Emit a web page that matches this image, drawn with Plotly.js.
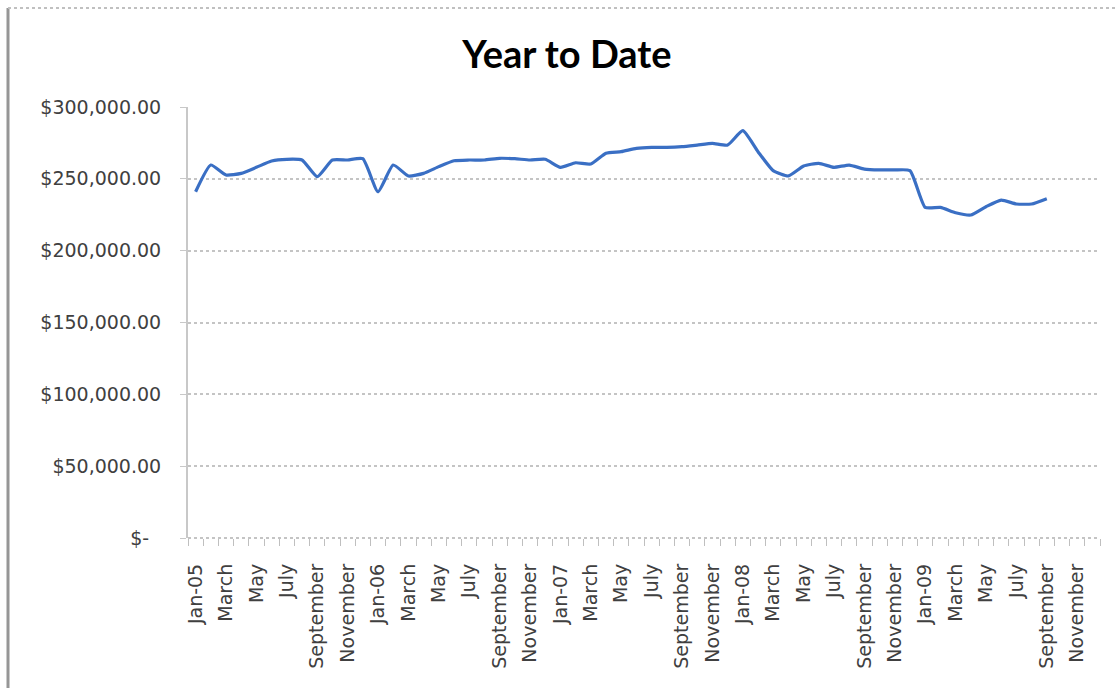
<!DOCTYPE html>
<html>
<head>
<meta charset="utf-8">
<script src="https://cdn.plot.ly/plotly-3.0.1.min.js"></script>
<style>
  html, body { margin: 0; padding: 0; background: #ffffff; }
  #chart { width: 1116px; height: 688px; }
</style>
</head>
<body>
<div id="chart"></div>
<script>
// Category keys (one per month, Jan-05 .. Dec-09)
const months = [
  "2005-01","2005-02","2005-03","2005-04","2005-05","2005-06","2005-07","2005-08","2005-09","2005-10","2005-11","2005-12",
  "2006-01","2006-02","2006-03","2006-04","2006-05","2006-06","2006-07","2006-08","2006-09","2006-10","2006-11","2006-12",
  "2007-01","2007-02","2007-03","2007-04","2007-05","2007-06","2007-07","2007-08","2007-09","2007-10","2007-11","2007-12",
  "2008-01","2008-02","2008-03","2008-04","2008-05","2008-06","2008-07","2008-08","2008-09","2008-10","2008-11","2008-12",
  "2009-01","2009-02","2009-03","2009-04","2009-05","2009-06","2009-07","2009-08","2009-09","2009-10","2009-11","2009-12"
];

// Displayed month labels (every other one is shown on the axis)
const monthLabels = [
  "Jan-05","February","March","April","May","June","July","August","September","October","November","December",
  "Jan-06","February","March","April","May","June","July","August","September","October","November","December",
  "Jan-07","February","March","April","May","June","July","August","September","October","November","December",
  "Jan-08","February","March","April","May","June","July","August","September","October","November","December",
  "Jan-09","February","March","April","May","June","July","August","September","October","November","December"
];

// Year-to-date values
const ytdValues = [
  241000, 259600, 252700, 253800, 258000, 262400, 263600, 263100, 251500, 263100, 263100, 264000,
  241000, 259600, 252000, 253800, 258500, 262600, 263100, 263100, 264300, 264000, 263100, 263600,
  258000, 261200, 260300, 267800, 268900, 271200, 271900, 271900, 272400, 273500, 274700, 273500,
  283500, 268900, 255700, 252000, 258900, 260800, 258000, 259600, 256800, 256200, 256200, 255700,
  230100, 230100, 226400, 224800, 230600, 235200, 232500, 232500, 236200, null, null, null
];

// Y axis ticks
const yTickVals = [0, 50000, 100000, 150000, 200000, 250000, 300000];
const yTickText = ["$-\u00a0\u00a0", "$50,000.00", "$100,000.00", "$150,000.00", "$200,000.00", "$250,000.00", "$300,000.00"];

const xTickText = monthLabels.map((l, i) => (i % 2 === 0 ? l : ""));

const axisFont = { family: "DejaVu Sans", size: 19, color: "#404040" };

const trace = {
  type: "scatter",
  mode: "lines",
  x: months,
  y: ytdValues,
  connectgaps: false,
  line: { color: "#3a6fc4", width: 3.2, shape: "spline", smoothing: 0.5 },
  hoverinfo: "x+y"
};

// pixel helpers for border shapes (plot area: x 188..1100, y 107..538)
const L = 188, R = 16, T = 107, B = 150, W = 1116, H = 688;
const pw = W - L - R, ph = H - T - B;
const px = (p) => (p - L) / pw;
const py = (p) => (H - B - p) / ph;

const layout = {
  width: W,
  height: H,
  margin: { l: L, r: R, t: T, b: B },
  paper_bgcolor: "#ffffff",
  plot_bgcolor: "#ffffff",
  showlegend: false,
  title: {
    text: "<b>Year to Date</b>",
    font: { family: "Lato", size: 38, color: "#000000" },
    x: 567 / W, xref: "container", xanchor: "center",
    y: 1 - 55 / H, yref: "container", yanchor: "middle"
  },
  xaxis: {
    type: "category",
    categoryorder: "array",
    categoryarray: months,
    range: [-0.5, months.length - 0.5],
    tickmode: "array",
    tickvals: months,
    ticktext: xTickText,
    tickangle: -90,
    tickson: "boundaries",
    ticks: "outside",
    ticklen: 7,
    tickwidth: 1,
    tickcolor: "#bfbfbf",
    ticklabelstandoff: 21,
    showgrid: false,
    zeroline: false,
    showline: false,
    tickfont: axisFont,
    fixedrange: true
  },
  yaxis: {
    range: [0, 300000],
    tickmode: "array",
    tickvals: yTickVals,
    ticktext: yTickText,
    ticks: "outside",
    ticklen: 6,
    tickcolor: "#c8c8c8",
    ticklabelstandoff: 15,
    showgrid: true,
    gridcolor: "#c4c4c4",
    gridwidth: 2,
    griddash: "dot",
    zeroline: false,
    showline: true,
    linecolor: "#c8c8c8",
    linewidth: 2,
    tickfont: axisFont,
    fixedrange: true
  },
  shapes: [
    { type: "line", xref: "paper", yref: "paper",
      x0: 0, x1: 1, y0: 0, y1: 0, layer: "below",
      line: { color: "#c4c4c4", width: 2, dash: "dot" } },
    { type: "line", xref: "paper", yref: "paper",
      x0: px(8), x1: px(8), y0: py(H), y1: py(8),
      line: { color: "#969696", width: 3 } },
    { type: "line", xref: "paper", yref: "paper",
      x0: px(8), x1: px(W), y0: py(8), y1: py(8),
      line: { color: "#c0c0c0", width: 2, dash: "dot" } }
  ]
};

Plotly.newPlot("chart", [trace], layout, { displayModeBar: false, staticPlot: true });
</script>
</body>
</html>
